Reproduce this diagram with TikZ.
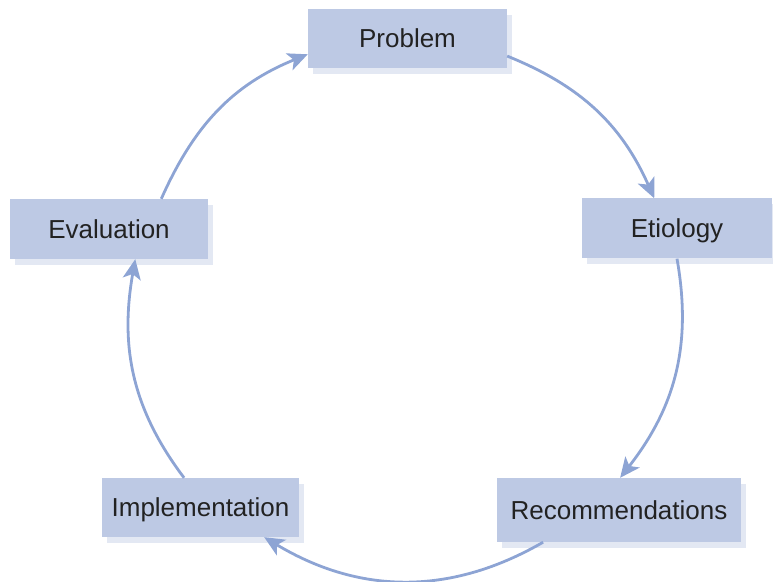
\documentclass[tikz,border=0pt]{standalone}
\usepackage{fontspec}
\setmainfont{Liberation Sans}
\usetikzlibrary{arrows.meta,shadows}

\definecolor{boxfill}{HTML}{BDC9E4}
\definecolor{boxshade}{HTML}{E3E8F3}
\definecolor{flowblue}{HTML}{8DA4D4}
\definecolor{labelgray}{HTML}{222222}

\begin{document}
\begin{tikzpicture}[
        x=1pt, y=1pt,
        box/.style={fill=boxfill, text=labelgray, inner sep=0pt,
            font=\fontsize{26}{30}\selectfont, text height=18.6pt, text depth=0pt,
            drop shadow={shadow xshift=5pt, shadow yshift=-6pt, fill=boxshade, opacity=1}},
        arrow/.style={-{Stealth[length=20pt, width=18pt, inset=5pt]}, draw=flowblue, line width=2.8pt}
    ]
    \useasboundingbox (0,0) rectangle (773,581);

    % the five stages
    \node[box, minimum width=199pt, minimum height=59pt] (problem) at (407.5,542.5) {Problem};
    \node[box, minimum width=190pt, minimum height=60pt] (etiology) at (677,352.5) {Etiology};
    \node[box, minimum width=244pt, minimum height=64pt] (recommendations) at (619,71) {Recommendations};
    \node[box, minimum width=197pt, minimum height=59pt] (implementation) at (200.5,73.5) {Implementation};
    \node[box, minimum width=198pt, minimum height=60pt] (evaluation) at (109,352) {Evaluation};

    % cycle arrows
    \draw[arrow] (evaluation.30) to[out=66, in=202] (problem.189);
    \draw[arrow] (problem.-10) to[out=-22, in=114] (etiology.127);
    \draw[arrow] (etiology.south) to[out=-80, in=52] (recommendations.88);
    \draw[arrow] (recommendations.203) to[out=210, in=-31] (implementation.-25);
    \draw[arrow] (implementation.119) to[out=127, in=-100] (evaluation.-49);
\end{tikzpicture}
\end{document}
